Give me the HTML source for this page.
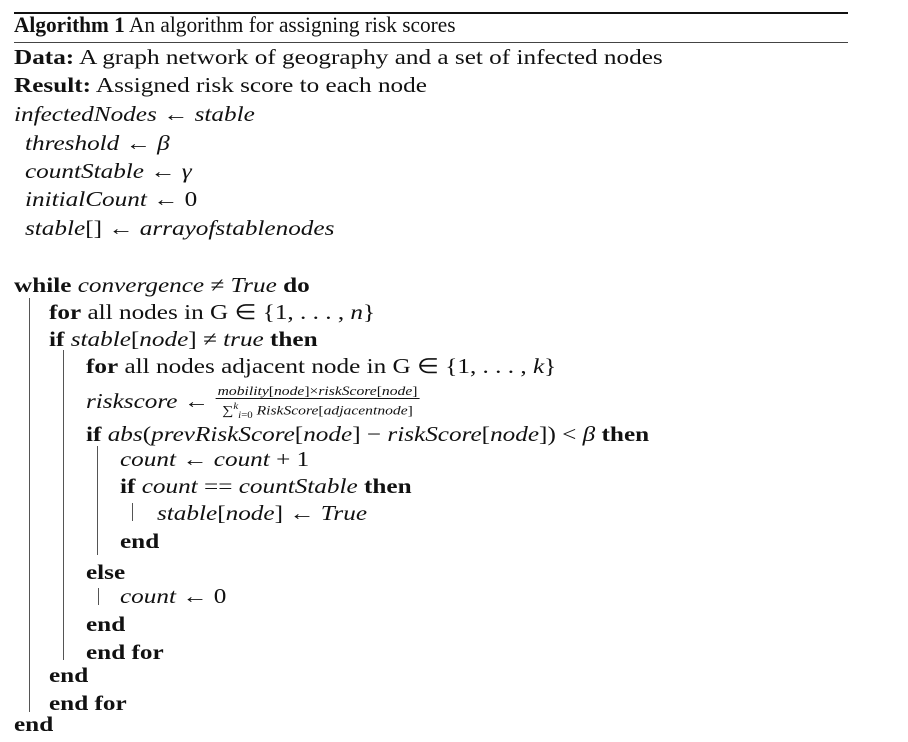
<!DOCTYPE html>
<html><head><style>
body{margin:0;width:908px;height:742px;background:#fff;position:relative;overflow:hidden;font-family:"Liberation Serif",serif;font-size:21px;color:#111}
.l{position:absolute;white-space:nowrap;line-height:24px;transform:scaleX(1.2);transform-origin:0 0}
.t{transform:scaleX(0.97);font-size:22px}
i{font-style:italic}
b{font-weight:bold}
.v{position:absolute;width:1px;background:#555}
.h{position:absolute;left:14px;width:834px;background:#111}
.frac{display:inline-block;vertical-align:middle;text-align:center;font-size:13px;line-height:14px}
.frac span{display:block}
.frac .n{border-bottom:1px solid #111;padding:0 2px}
</style></head><body>
<div class="h" style="top:12px;height:2px"></div>
<div class="h" style="top:42px;height:1px;background:#444"></div>
<div class="l t" style="left:14px;top:13px"><b>Algorithm 1</b> An algorithm for assigning risk scores</div>
<div class="l" style="left:14px;top:45px"><b>Data:</b> A graph network of geography and a set of infected nodes</div>
<div class="l" style="left:14px;top:73px"><b>Result:</b> Assigned risk score to each node</div>
<div class="l" style="left:14px;top:102px"><i>infectedNodes</i> ← <i>stable</i></div>
<div class="l" style="left:25px;top:131px"><i>threshold</i> ← <i>β</i></div>
<div class="l" style="left:25px;top:159px"><i>countStable</i> ← <i>γ</i></div>
<div class="l" style="left:25px;top:187px"><i>initialCount</i> ← 0</div>
<div class="l" style="left:25px;top:216px"><i>stable</i>[] ← <i>arrayofstablenodes</i></div>
<div class="l" style="left:14px;top:273px"><b>while</b> <i>convergence</i> ≠ <i>True</i> <b>do</b></div>
<div class="l" style="left:49px;top:300px"><b>for</b> all nodes in G ∈ {1, . . . , <i>n</i>}</div>
<div class="l" style="left:49px;top:327px"><b>if</b> <i>stable</i>[<i>node</i>] ≠ <i>true</i> <b>then</b></div>
<div class="l" style="left:86px;top:354px"><b>for</b> all nodes adjacent node in G ∈ {1, . . . , <i>k</i>}</div>
<div class="l" style="left:86px;top:384px"><i>riskscore</i> ← <span class="frac"><span class="n"><i>mobility</i>[<i>node</i>]×<i>riskScore</i>[<i>node</i>]</span><span>∑<sup style="font-size:9px"><i>k</i></sup><sub style="font-size:9px"><i>i</i>=0</sub> <i>RiskScore</i>[<i>adjacentnode</i>]</span></span></div>
<div class="l" style="left:86px;top:422px"><b>if</b> <i>abs</i>(<i>prevRiskScore</i>[<i>node</i>] − <i>riskScore</i>[<i>node</i>]) &lt; <i>β</i> <b>then</b></div>
<div class="l" style="left:120px;top:447px"><i>count</i> ← <i>count</i> + 1</div>
<div class="l" style="left:120px;top:474px"><b>if</b> <i>count</i> == <i>countStable</i> <b>then</b></div>
<div class="l" style="left:157px;top:501px"><i>stable</i>[<i>node</i>] ← <i>True</i></div>
<div class="l" style="left:120px;top:529px"><b>end</b></div>
<div class="l" style="left:86px;top:560px"><b>else</b></div>
<div class="l" style="left:120px;top:584px"><i>count</i> ← 0</div>
<div class="l" style="left:86px;top:612px"><b>end</b></div>
<div class="l" style="left:86px;top:640px"><b>end for</b></div>
<div class="l" style="left:49px;top:663px"><b>end</b></div>
<div class="l" style="left:49px;top:691px"><b>end for</b></div>
<div class="l" style="left:14px;top:712px"><b>end</b></div>
<div class="v" style="left:29px;top:298px;height:414px"></div>
<div class="v" style="left:63px;top:350px;height:310px"></div>
<div class="v" style="left:97px;top:446px;height:109px"></div>
<div class="v" style="left:132px;top:503px;height:18px"></div>
<div class="v" style="left:98px;top:588px;height:17px"></div>
</body></html>
